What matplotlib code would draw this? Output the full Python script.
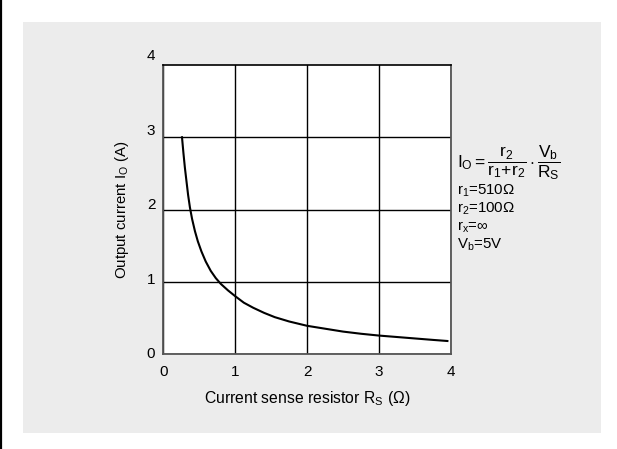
import matplotlib
matplotlib.use('Agg')
import matplotlib.pyplot as plt
from matplotlib.patches import Rectangle
from matplotlib.lines import Line2D

plt.rcParams['font.family'] = ['Liberation Sans', 'DejaVu Sans']
plt.rcParams['mathtext.fontset'] = 'custom'
plt.rcParams['mathtext.rm'] = 'Liberation Sans'
plt.rcParams['mathtext.it'] = 'Liberation Sans'

# values
rs = [0.26, 0.28, 0.30, 0.32, 0.345, 0.37, 0.40, 0.44, 0.48, 0.53, 0.59, 0.66,
      0.73, 0.80, 0.90, 1.0, 1.12, 1.25, 1.4, 1.55, 1.75, 2.0, 2.25, 2.5,
      2.75, 3.0, 3.25, 3.5, 3.75, 3.95]
io = [3.0, 2.78, 2.58, 2.41, 2.2, 2.03, 1.87, 1.7, 1.56, 1.42, 1.28, 1.15,
      1.05, 0.97, 0.88, 0.80, 0.71, 0.64, 0.57, 0.51, 0.45, 0.39, 0.35, 0.31,
      0.28, 0.255, 0.235, 0.215, 0.195, 0.18]

xticks = [0, 1, 2, 3, 4]
yticks = [0, 1, 2, 3, 4]
notes = ['r$_1$=510Ω', 'r$_2$=100Ω', 'r$_x$=∞', 'V$_b$=5V']

W, H = 617, 449
fig = plt.figure(figsize=(W / 100, H / 100), dpi=100)
fig.patch.set_facecolor('white')

# grey panel and left border
fig.patches.append(Rectangle((22.7 / W, 1 - 432.7 / H), (601 - 22.7) / W, (432.7 - 22) / H,
                             transform=fig.transFigure, facecolor='#ececec', edgecolor='none', zorder=-5))
fig.add_artist(Line2D([1.2 / W, 1.2 / W], [0, 1], transform=fig.transFigure, color='black', lw=1.6))

ax = fig.add_axes([163.3 / W, 1 - 354 / H, (451 - 163.3) / W, (354 - 65) / H])
ax.set_zorder(2)
ax.set_facecolor('white')
ax.plot(rs, io, color='black', lw=1.5, zorder=3)

ax.set_xlim(0, 4)
ax.set_ylim(0, 4)
ax.set_xticks(xticks)
ax.set_yticks(yticks)
ax.tick_params(length=0, labelsize=11, pad=8)
ax.set_yticklabels([])
for t in yticks:
    ax.text(-0.17, t * 1.03, str(t), ha='center', va='center', fontsize=11)
ax.grid(True, color='black', lw=1.0)
ax.yaxis.get_gridlines()[-1].set_visible(False)

for s in ['left', 'bottom', 'right']:
    ax.spines[s].set_color('#555555')
    ax.spines[s].set_linewidth(1.3)
ax.spines['top'].set_color('black')
ax.spines['top'].set_linewidth(1.2)

ax.set_xlabel('Current sense resistor R$_\\mathrm{S}$ (Ω)', fontsize=11.3, labelpad=7)
ax.set_ylabel('Output current I$_\\mathrm{O}$ (A)', fontsize=10.8, labelpad=15)

# formula and conditions
fig.text(457 / W, 1 - 163 / H,
         r'$\mathrm{I_O{=}}\dfrac{\mathrm{r_2}}{\mathrm{r_1{+}r_2}}\cdot\dfrac{\mathrm{V_b}}{\mathrm{R_S}}$',
         fontsize=12.5, ha='left', va='center')
for i, s in enumerate(notes):
    fig.text(457 / W, 1 - (191 + i * 18) / H, s, fontsize=10.8, ha='left', va='center')

fig.savefig('out.png', dpi=100)
